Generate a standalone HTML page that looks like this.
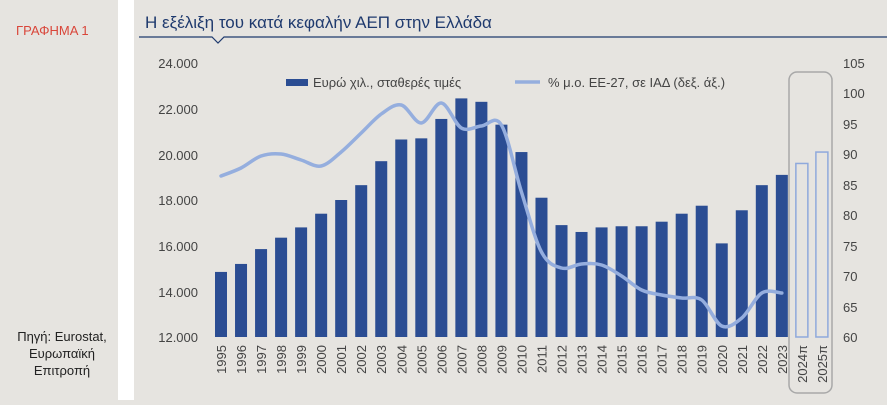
<!DOCTYPE html>
<html><head><meta charset="utf-8"><style>
body{margin:0;width:887px;height:400px;background:#e6e4e0;overflow:hidden;font-family:"Liberation Sans",sans-serif}
</style></head><body>
<svg width="887" height="400" xmlns="http://www.w3.org/2000/svg" font-family="Liberation Sans, sans-serif">
<rect width="887" height="400" fill="#e6e4e0"/>
<rect x="118" y="0" width="16" height="400" fill="#ffffff"/>
<text x="16" y="35" font-size="13" fill="#d9463a">ΓΡΑΦΗΜΑ 1</text>
<text x="62" y="341" font-size="13" fill="#222" text-anchor="middle">Πηγή: Eurostat,</text>
<text x="62" y="358" font-size="13" fill="#222" text-anchor="middle">Ευρωπαϊκή</text>
<text x="62" y="375" font-size="13" fill="#222" text-anchor="middle">Επιτροπή</text>
<text x="145" y="28" font-size="17" fill="#1f3a6e">Η εξέλιξη του κατά κεφαλήν ΑΕΠ στην Ελλάδα</text>
<path d="M139 37 H212 L218 43 L224 37 H887" stroke="#1f3a6e" stroke-width="1.2" fill="none"/>
<g font-size="13" fill="#444" text-anchor="end">
<text x="198" y="68">24.000</text><text x="198" y="114">22.000</text><text x="198" y="160">20.000</text>
<text x="198" y="205">18.000</text><text x="198" y="251">16.000</text><text x="198" y="297">14.000</text><text x="198" y="342">12.000</text>
</g>
<g font-size="13" fill="#444">
<text x="843" y="68">105</text><text x="843" y="98">100</text><text x="843" y="129">95</text><text x="843" y="159">90</text>
<text x="843" y="190">85</text><text x="843" y="220">80</text><text x="843" y="251">75</text><text x="843" y="281">70</text>
<text x="843" y="312">65</text><text x="843" y="342">60</text>
</g>
<rect x="789" y="72" width="43" height="321" rx="8" fill="none" stroke="#a8a8a8" stroke-width="1.5"/>
<g id="bars"></g>
<g id="labels" font-size="13" fill="#444"></g>
<path id="ln" fill="none" stroke="#95aede" stroke-width="3.5" stroke-linecap="round"/>
<rect x="286" y="79" width="22" height="7" fill="#2b4d93"/>
<text x="313" y="87" font-size="13" fill="#444">Ευρώ χιλ., σταθερές τιμές</text>
<line x1="515" y1="82" x2="540" y2="82" stroke="#95aede" stroke-width="3.5"/>
<text x="548" y="87" font-size="13" fill="#444">% μ.ο. ΕΕ-27, σε ΙΑΔ (δεξ. άξ.)</text>
</svg>
<script>
var v=[14850,15200,15850,16350,16800,17400,18000,18650,19700,20650,20700,21550,22450,22300,21300,20100,18100,16900,16600,16800,16850,16850,17050,17400,17750,16100,17550,18650,19100,19600,20100];
var ly=[176,168,156,154,160,166,152,133,114,105,123,103,128,126,125,192,252,268,264,265,276,290,295,298,300,326,318,293,293];
var ns="http://www.w3.org/2000/svg",b=document.getElementById('bars'),lb=document.getElementById('labels');
for(var i=0;i<31;i++){var cx=221+i*20.03,y=337-(v[i]-12000)*0.022833;var r=document.createElementNS(ns,'rect');
r.setAttribute('x',cx-6);r.setAttribute('y',y);r.setAttribute('width',12);r.setAttribute('height',337-y);
if(i<29)r.setAttribute('fill','#2b4d93');else{r.setAttribute('fill','none');r.setAttribute('stroke','#8fa9dc');r.setAttribute('stroke-width','1.5');}
b.appendChild(r);var t=document.createElementNS(ns,'text');var lab=i<29?String(1995+i):(2024+i-29)+'π';
t.textContent=lab;t.setAttribute('transform','translate('+(cx+5)+',345) rotate(-90)');t.setAttribute('text-anchor','end');lb.appendChild(t);}
var p=[];for(i=0;i<29;i++)p.push([221+i*20.03,ly[i]]);
var d='M'+p[0][0]+' '+p[0][1];for(i=0;i<p.length-1;i++){var p0=p[i-1]||p[i],p1=p[i],p2=p[i+1],p3=p[i+2]||p2;
d+=' C'+(p1[0]+(p2[0]-p0[0])/6)+' '+(p1[1]+(p2[1]-p0[1])/6)+' '+(p2[0]-(p3[0]-p1[0])/6)+' '+(p2[1]-(p3[1]-p1[1])/6)+' '+p2[0]+' '+p2[1];}
document.getElementById('ln').setAttribute('d',d);
</script>
</body></html>
